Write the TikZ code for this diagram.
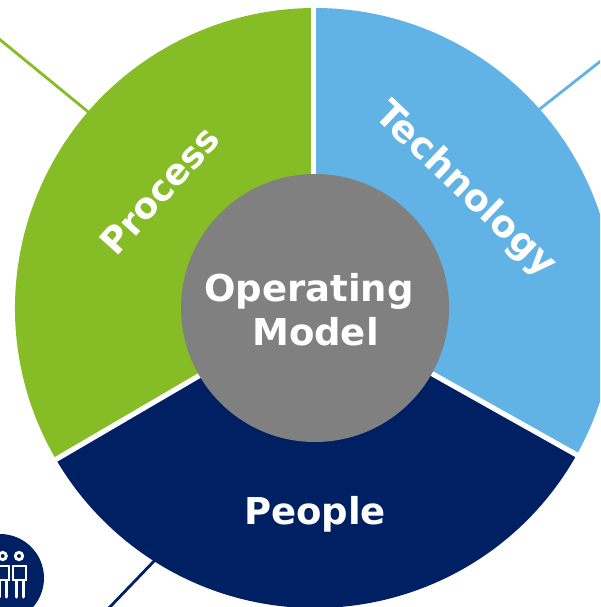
\documentclass[tikz,border=0pt]{standalone}
\usepackage{fontspec}
\usetikzlibrary{calc}
\setmainfont{DejaVu Sans}
\definecolor{gr}{RGB}{134,188,37}
\definecolor{bl}{RGB}{98,179,229}
\definecolor{nv}{RGB}{0,32,100}
\definecolor{gy}{RGB}{128,128,128}
\tikzset{lbl/.style={text=white,font=\bfseries\fontsize{37}{44}\selectfont,align=center,inner sep=0pt},
 sep/.style={white,line width=5.2pt},
 iconline/.style={white,line width=2pt}}
\begin{document}
\begin{tikzpicture}[x=1pt,y=-1pt]
\useasboundingbox (0,0) rectangle (600,607);
\clip (0,0) rectangle (600,607);
\fill[white] (0,0) rectangle (600,607);
\coordinate (c) at (315,308);
\coordinate (gs) at (-2,38); \coordinate (ge) at (92,115);
\coordinate (bs) at (602,60); \coordinate (be) at (536,112);
\coordinate (ns) at (108,609); \coordinate (ne) at (157,558);
\draw[gr,line width=2.8pt] (gs) -- (ge);
\draw[bl,line width=2.8pt] (bs) -- (be);
\draw[nv,line width=2.8pt] (ns) -- (ne);
% sectors, y axis points down so angles run clockwise on screen
\fill[bl] (c) -- ++(-90:300) arc[start angle=-90,end angle=29.3,radius=300] -- cycle;
\fill[nv] (c) -- ++(29.3:300) arc[start angle=29.3,end angle=149.7,radius=300] -- cycle;
\fill[gr] (c) -- ++(149.7:300) arc[start angle=149.7,end angle=270,radius=300] -- cycle;
\coordinate (a2) at ($(c)+(29.3:320)$);
\coordinate (a3) at ($(c)+(149.7:320)$);
\draw[sep] (313.6,308) -- (313.6,-10);
\draw[sep] (c) -- (a2);
\draw[sep] (c) -- (a3);
\node[circle,fill=gy,minimum size=268pt,inner sep=0pt] (hub) at (c) {};
\node[lbl] (om) at (309,310) {Operating\\ \ Model};
\node[lbl] (pe) at (315,514) {People};
\node[lbl,font=\bfseries\fontsize{36}{44}\selectfont,rotate=48] (pr) at (159.5,190.5) {Process};
\node[lbl,rotate=-43.5] (te) at (465,190) {Technology};
% icon
\fill[nv] (0,578) circle[radius=44];
\foreach \x in {2.7,19}{
 \fill[white] (\x,556) circle[radius=5.2];
 \fill[nv] (\x,556) circle[radius=2];
 \draw[iconline] (\x-6,566) rectangle (\x+6.5,580);
 \draw[white,line width=3pt,line cap=round] (\x-3,581) -- (\x-3,597);
 \draw[white,line width=3pt,line cap=round] (\x+4,581) -- (\x+4,597);
}
\end{tikzpicture}
\end{document}
